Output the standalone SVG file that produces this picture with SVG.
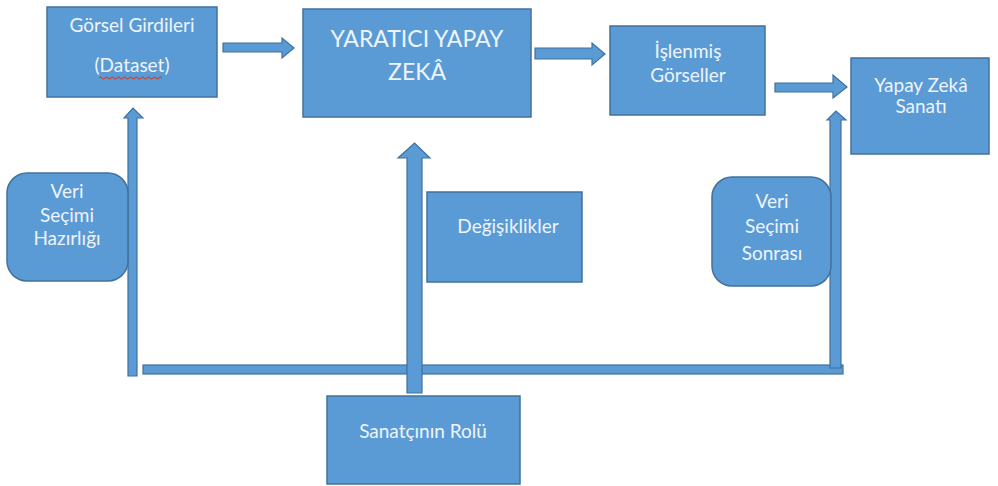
<svg xmlns="http://www.w3.org/2000/svg" width="998" height="486" viewBox="0 0 998 486">
<style>
.box{fill:#5b9bd5;stroke:#41719c;stroke-width:1.5}
.arr{fill:#5b9bd5;stroke:#41719c;stroke-width:1.2;stroke-linejoin:miter}
.t{font-family:Lato,"Open Sans",sans-serif;font-size:19px;fill:#eef4fb;text-anchor:middle}
.big{font-size:23px}
</style>
<rect width="998" height="486" fill="#ffffff"/>
<g id="connectors">
<polygon class="arr" points="223,43 282,43 282,38 294,48 282,58 282,52 223,52"/>
<polygon class="arr" points="535,48 592,48 592,43 605,54 592,65 592,59 535,59"/>
<polygon class="arr" points="775,83 833,83 833,75 847,87 833,98 833,92 775,92"/>
<polygon class="arr" points="128,376 128,118 124,118 133,108 143,118 137,118 137,376"/>
<rect class="arr" x="143" y="365" width="700" height="9"/>
<polygon class="arr" points="830,368 830,120 827,120 836,111 846,120 841,120 841,368"/>
<polygon class="arr" points="407,393 407,158 398,158 414.5,143 430,158 422,158 422,393"/>
</g>
<g id="gorsel-girdileri">
<rect class="box" x="47" y="7" width="170" height="90"/>
<text class="t" x="132" y="32">Görsel Girdileri</text>
<text class="t" x="132" y="72">(Dataset)</text>
<path d="M99,78 q1.5,-2 3,0 t3,0 t3,0 t3,0 t3,0 t3,0 t3,0 t3,0 t3,0 t3,0 t3,0 t3,0 t3,0 t3,0 t3,0 t3,0 t3,0 t3,0 t3,0 t3,0 t3,0" fill="none" stroke="#c0392b" stroke-width="1"/>
</g>
<g id="yaratici-yapay-zeka">
<rect class="box" x="303" y="9" width="228" height="108"/>
<text class="t big" x="417" y="47">YARATICI YAPAY</text>
<text class="t big" x="417" y="80">ZEKÂ</text>
</g>
<g id="islenmis-gorseller">
<rect class="box" x="610" y="26" width="155" height="89"/>
<text class="t" x="688" y="58">İşlenmiş</text>
<text class="t" x="688" y="82">Görseller</text>
</g>
<g id="yapay-zeka-sanati">
<rect class="box" x="851" y="58" width="138" height="96"/>
<text class="t" x="921" y="92">Yapay Zekâ</text>
<text class="t" x="921" y="113">Sanatı</text>
</g>
<g id="veri-secimi-hazirligi">
<rect class="box" x="7" y="173" width="121" height="108" rx="20"/>
<text class="t" x="67" y="198">Veri</text>
<text class="t" x="67" y="222">Seçimi</text>
<text class="t" x="67" y="245">Hazırlığı</text>
</g>
<g id="degisiklikler">
<rect class="box" x="427" y="192" width="155" height="90"/>
<text class="t" x="508" y="233">Değişiklikler</text>
</g>
<g id="veri-secimi-sonrasi">
<rect class="box" x="712" y="177" width="119" height="109" rx="20"/>
<text class="t" x="772" y="208">Veri</text>
<text class="t" x="772" y="233">Seçimi</text>
<text class="t" x="772" y="260">Sonrası</text>
</g>
<g id="sanatcinin-rolu">
<rect class="box" x="327" y="396" width="193" height="88"/>
<text class="t" x="423" y="438">Sanatçının Rolü</text>
</g>
</svg>
